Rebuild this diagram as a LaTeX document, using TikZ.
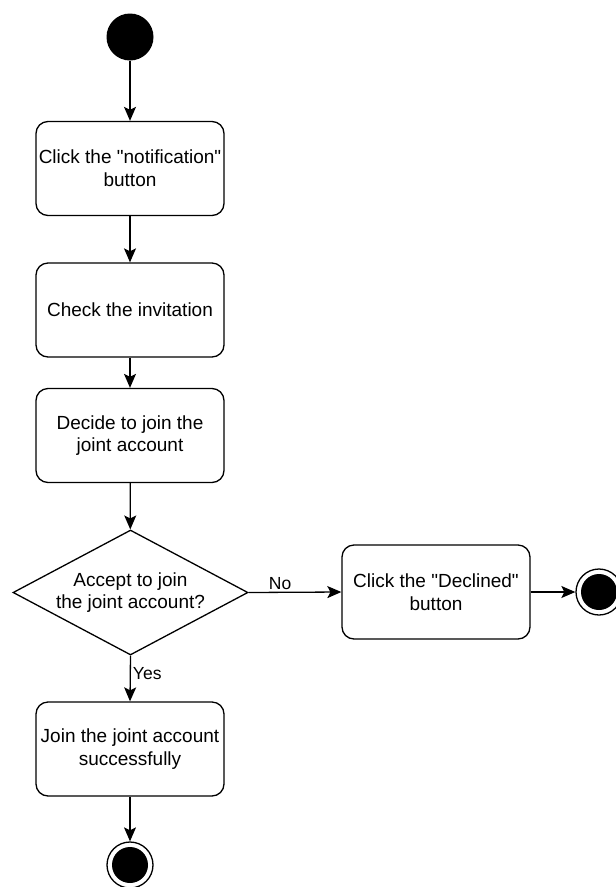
\documentclass[tikz,border=0pt]{standalone}
\usepackage{fontspec}
\setmainfont{Liberation Sans}
\usetikzlibrary{shapes.geometric,arrows.meta}
\begin{document}
\begin{tikzpicture}[x=1pt, y=-1pt,
    activity/.style={draw, line width=1.3pt, rounded corners=12pt,
        minimum width=188pt, minimum height=94pt, inner sep=0pt,
        align=center, font=\fontsize{19}{22.7}\selectfont},
    decision/.style={draw, line width=1.3pt, diamond, aspect=1.89,
        minimum width=235pt, minimum height=125pt, inner sep=0pt,
        align=center, font=\fontsize{19}{22.7}\selectfont},
    finish/.style={draw, circle, line width=1.3pt, minimum size=46pt, inner sep=0pt},
    flow/.style={line width=1.3pt, -{Stealth[length=14pt, width=12pt, inset=3pt]}},
    guard/.style={font=\fontsize{17.5}{20}\selectfont, inner sep=2pt}]
    \useasboundingbox (0,0) rectangle (616,887);

    % start
    \node[circle, fill, minimum size=47pt, inner sep=0pt] (start) at (130, 37) {};

    % main column
    \node[activity] (notify)  at (130, 168.5) {Click the \textquotedbl notification\textquotedbl\\button};
    \node[activity] (check)   at (130, 310)   {Check the invitation};
    \node[activity] (decide)  at (130, 435.5) {Decide to join the\\joint account};
    \node[decision] (accept)  at (130.5, 592.5) {Accept to join\\the joint account?};
    \node[activity] (join)    at (130, 749)   {Join the joint account\\successfully};
    \node[activity] (decline) at (436, 592)   {Click the \textquotedbl Declined\textquotedbl\\button};

    % end states
    \node[finish] (endjoin) at (130, 865) {};
    \fill (endjoin) circle (18pt);
    \node[finish] (enddecline) at (599, 592) {};
    \fill (enddecline) circle (18pt);

    % flows
    \draw[flow] (start) -- (notify);
    \draw[flow] (notify) -- (check);
    \draw[flow] (check) -- (decide);
    \draw[flow] (decide) -- (accept);
    \draw[flow] (accept.east) -- node[guard, pos=0.34, above] {No} (decline.west);
    \draw[flow] (accept.south) -- node[guard, pos=0.4, right] {Yes} (join.north);
    \draw[flow] (join) -- (endjoin);
    \draw[flow] (decline) -- (enddecline);
\end{tikzpicture}
\end{document}
